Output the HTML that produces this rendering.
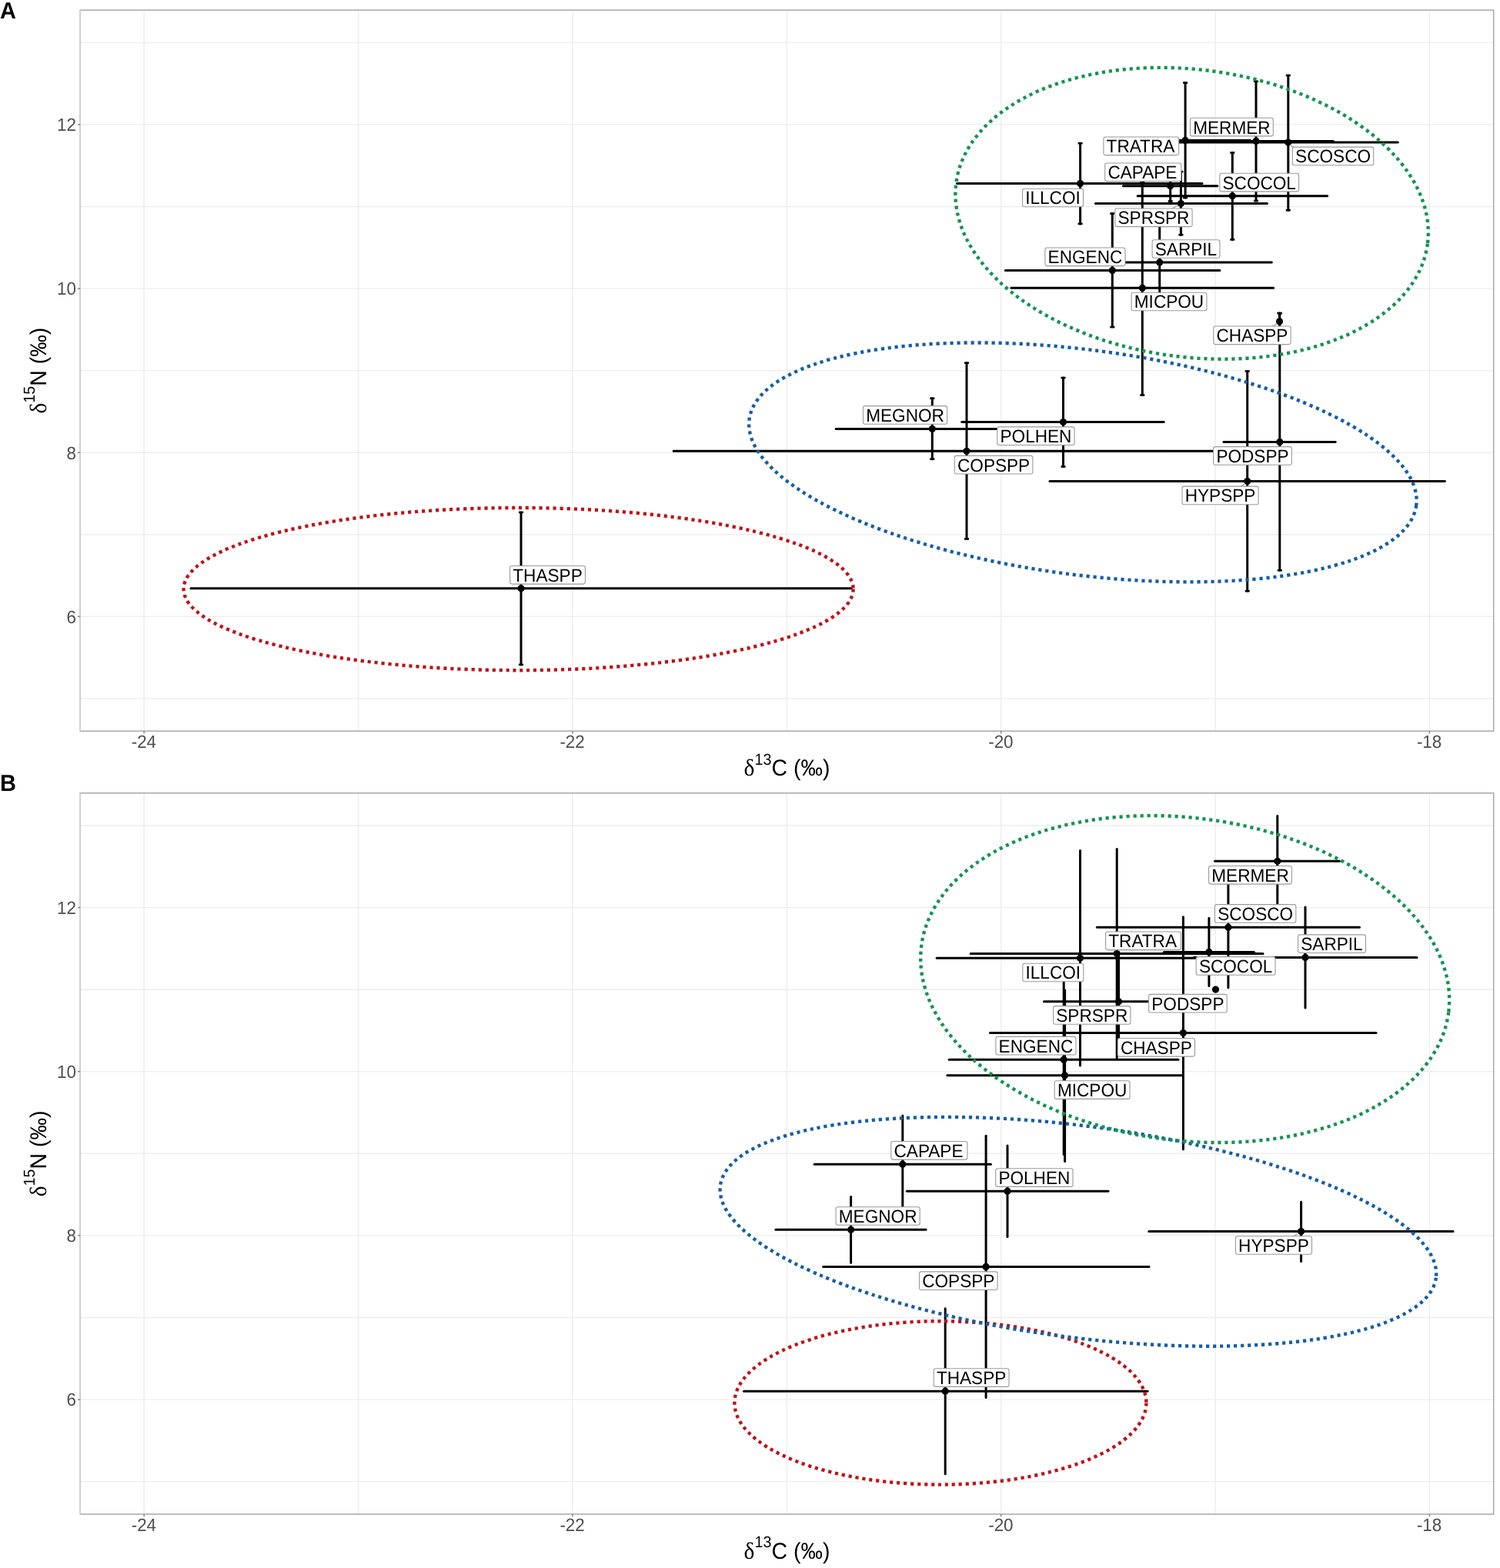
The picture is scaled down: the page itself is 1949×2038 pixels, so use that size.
<!DOCTYPE html>
<html><head><meta charset="utf-8"><title>Stable isotope biplot</title>
<style>html,body{margin:0;padding:0;background:#fff;}svg{display:block;}text{text-rendering:geometricPrecision;}</style>
</head><body>
<svg width="1949" height="2038" viewBox="0 0 1949 2038">
<rect width="1949" height="2038" fill="#ffffff"/>
<g stroke="#ededed" stroke-width="1.4" fill="none">
<line x1="104.3" y1="907.9" x2="1940.7" y2="907.9"/>
<line x1="104.3" y1="801.3" x2="1940.7" y2="801.3"/>
<line x1="104.3" y1="694.7" x2="1940.7" y2="694.7"/>
<line x1="104.3" y1="588.2" x2="1940.7" y2="588.2"/>
<line x1="104.3" y1="481.6" x2="1940.7" y2="481.6"/>
<line x1="104.3" y1="375.1" x2="1940.7" y2="375.1"/>
<line x1="104.3" y1="268.5" x2="1940.7" y2="268.5"/>
<line x1="104.3" y1="161.9" x2="1940.7" y2="161.9"/>
<line x1="104.3" y1="55.4" x2="1940.7" y2="55.4"/>
<line x1="187.2" y1="13.1" x2="187.2" y2="950.2"/>
<line x1="465.6" y1="13.1" x2="465.6" y2="950.2"/>
<line x1="743.9" y1="13.1" x2="743.9" y2="950.2"/>
<line x1="1022.3" y1="13.1" x2="1022.3" y2="950.2"/>
<line x1="1300.7" y1="13.1" x2="1300.7" y2="950.2"/>
<line x1="1579.0" y1="13.1" x2="1579.0" y2="950.2"/>
<line x1="1857.4" y1="13.1" x2="1857.4" y2="950.2"/>
</g>
<g stroke="#000" stroke-width="3" fill="none" stroke-linecap="round">
<line x1="248.0" y1="764.8" x2="1106.3" y2="764.8"/>
<line x1="677.0" y1="665.9" x2="677.0" y2="863.9"/>
<line x1="1243.5" y1="238.6" x2="1562.0" y2="238.6"/>
<line x1="1403.6" y1="186.2" x2="1403.6" y2="290.9"/>
<line x1="1459.4" y1="241.7" x2="1581.9" y2="241.7"/>
<line x1="1520.7" y1="222.0" x2="1520.7" y2="261.5"/>
<line x1="1455.8" y1="182.4" x2="1624.4" y2="182.4"/>
<line x1="1540.1" y1="107.6" x2="1540.1" y2="257.0"/>
<line x1="1531.7" y1="183.4" x2="1732.3" y2="183.4"/>
<line x1="1632.0" y1="105.8" x2="1632.0" y2="261.0"/>
<line x1="1531.3" y1="185.0" x2="1816.3" y2="185.0"/>
<line x1="1673.8" y1="98.0" x2="1673.8" y2="273.2"/>
<line x1="1478.1" y1="254.8" x2="1724.7" y2="254.8"/>
<line x1="1601.3" y1="198.5" x2="1601.3" y2="311.4"/>
<line x1="1423.4" y1="264.5" x2="1646.4" y2="264.5"/>
<line x1="1534.4" y1="223.2" x2="1534.4" y2="305.2"/>
<line x1="1361.0" y1="340.9" x2="1652.3" y2="340.9"/>
<line x1="1506.7" y1="287.0" x2="1506.7" y2="394.6"/>
<line x1="1306.3" y1="351.6" x2="1584.9" y2="351.6"/>
<line x1="1445.3" y1="277.5" x2="1445.3" y2="425.0"/>
<line x1="1313.9" y1="374.3" x2="1654.5" y2="374.3"/>
<line x1="1484.3" y1="236.6" x2="1484.3" y2="513.5"/>
<line x1="1662.5" y1="406.9" x2="1662.5" y2="428.7"/>
<line x1="1590.0" y1="574.4" x2="1735.2" y2="574.4"/>
<line x1="1662.8" y1="407.3" x2="1662.8" y2="741.3"/>
<line x1="1364.0" y1="625.6" x2="1877.4" y2="625.6"/>
<line x1="1620.7" y1="482.5" x2="1620.7" y2="768.2"/>
<line x1="1249.7" y1="548.6" x2="1512.2" y2="548.6"/>
<line x1="1381.5" y1="491.0" x2="1381.5" y2="606.5"/>
<line x1="1086.2" y1="557.5" x2="1336.4" y2="557.5"/>
<line x1="1211.3" y1="517.7" x2="1211.3" y2="596.7"/>
<line x1="875.2" y1="586.3" x2="1636.8" y2="586.3"/>
<line x1="1256.0" y1="471.7" x2="1256.0" y2="700.4"/>
</g>
<g stroke="#000" stroke-width="2.6" stroke-linecap="butt">
<line x1="674.0" y1="665.9" x2="680.0" y2="665.9"/>
<line x1="674.0" y1="863.9" x2="680.0" y2="863.9"/>
<line x1="1400.6" y1="186.2" x2="1406.6" y2="186.2"/>
<line x1="1400.6" y1="290.9" x2="1406.6" y2="290.9"/>
<line x1="1517.7" y1="222.0" x2="1523.7" y2="222.0"/>
<line x1="1517.7" y1="261.5" x2="1523.7" y2="261.5"/>
<line x1="1537.1" y1="107.6" x2="1543.1" y2="107.6"/>
<line x1="1537.1" y1="257.0" x2="1543.1" y2="257.0"/>
<line x1="1629.0" y1="105.8" x2="1635.0" y2="105.8"/>
<line x1="1629.0" y1="261.0" x2="1635.0" y2="261.0"/>
<line x1="1670.8" y1="98.0" x2="1676.8" y2="98.0"/>
<line x1="1670.8" y1="273.2" x2="1676.8" y2="273.2"/>
<line x1="1598.3" y1="198.5" x2="1604.3" y2="198.5"/>
<line x1="1598.3" y1="311.4" x2="1604.3" y2="311.4"/>
<line x1="1531.4" y1="223.2" x2="1537.4" y2="223.2"/>
<line x1="1531.4" y1="305.2" x2="1537.4" y2="305.2"/>
<line x1="1503.7" y1="287.0" x2="1509.7" y2="287.0"/>
<line x1="1503.7" y1="394.6" x2="1509.7" y2="394.6"/>
<line x1="1442.3" y1="277.5" x2="1448.3" y2="277.5"/>
<line x1="1442.3" y1="425.0" x2="1448.3" y2="425.0"/>
<line x1="1481.3" y1="236.6" x2="1487.3" y2="236.6"/>
<line x1="1481.3" y1="513.5" x2="1487.3" y2="513.5"/>
<line x1="1659.5" y1="406.9" x2="1665.5" y2="406.9"/>
<line x1="1659.5" y1="428.7" x2="1665.5" y2="428.7"/>
<line x1="1659.8" y1="407.3" x2="1665.8" y2="407.3"/>
<line x1="1659.8" y1="741.3" x2="1665.8" y2="741.3"/>
<line x1="1617.7" y1="482.5" x2="1623.7" y2="482.5"/>
<line x1="1617.7" y1="768.2" x2="1623.7" y2="768.2"/>
<line x1="1378.5" y1="491.0" x2="1384.5" y2="491.0"/>
<line x1="1378.5" y1="606.5" x2="1384.5" y2="606.5"/>
<line x1="1208.3" y1="517.7" x2="1214.3" y2="517.7"/>
<line x1="1208.3" y1="596.7" x2="1214.3" y2="596.7"/>
<line x1="1253.0" y1="471.7" x2="1259.0" y2="471.7"/>
<line x1="1253.0" y1="700.4" x2="1259.0" y2="700.4"/>
</g>
<g fill="#000">
<circle cx="677.0" cy="764.8" r="4.6"/>
<circle cx="1403.6" cy="238.6" r="4.6"/>
<circle cx="1520.7" cy="241.7" r="4.6"/>
<circle cx="1540.1" cy="182.4" r="4.6"/>
<circle cx="1632.0" cy="183.4" r="4.6"/>
<circle cx="1673.8" cy="185.0" r="4.6"/>
<circle cx="1601.3" cy="254.8" r="4.6"/>
<circle cx="1534.4" cy="264.5" r="4.6"/>
<circle cx="1506.7" cy="340.9" r="4.6"/>
<circle cx="1445.3" cy="351.6" r="4.6"/>
<circle cx="1484.3" cy="374.3" r="4.6"/>
<circle cx="1662.5" cy="417.8" r="4.6"/>
<circle cx="1662.8" cy="574.4" r="4.6"/>
<circle cx="1620.7" cy="625.6" r="4.6"/>
<circle cx="1381.5" cy="548.6" r="4.6"/>
<circle cx="1211.3" cy="557.5" r="4.6"/>
<circle cx="1256.0" cy="586.3" r="4.6"/>
</g>
<ellipse cx="673.6" cy="765.6" rx="435.0" ry="105.6" transform="rotate(0.00 673.6 765.6)" fill="none" stroke="#bd1418" stroke-width="4.4" stroke-dasharray="4.2 4.8"/>
<ellipse cx="1406.9" cy="600.9" rx="436.9" ry="146.3" transform="rotate(7.34 1406.9 600.9)" fill="none" stroke="#165ea3" stroke-width="4.4" stroke-dasharray="4.2 4.8"/>
<ellipse cx="1548.6" cy="277.3" rx="308.8" ry="186.8" transform="rotate(7.33 1548.6 277.3)" fill="none" stroke="#159353" stroke-width="4.4" stroke-dasharray="4.2 4.8"/>
<g stroke="#999" stroke-width="1.2">
<line x1="1676" y1="188" x2="1681" y2="192"/>
<line x1="1659" y1="421" x2="1652" y2="424.5"/>
<line x1="1530.3" y1="267" x2="1523.3" y2="271"/>
<line x1="1617" y1="629" x2="1612" y2="632.5"/>
</g>
<g font-family="Liberation Sans, Arial, Helvetica, sans-serif" font-size="22.6" fill="#000">
<rect x="662.6" y="735.5" width="97.8" height="23.6" rx="2.5" fill="#fff" stroke="#9a9a9a" stroke-width="1.1"/>
<text transform="translate(666.3 755.7) scale(1 1.045)">THASPP</text>
<rect x="1328.5" y="245.2" width="79.0" height="23.6" rx="2.5" fill="#fff" stroke="#9a9a9a" stroke-width="1.1"/>
<text transform="translate(1332.2 265.4) scale(1 1.045)">ILLCOI</text>
<rect x="1435.7" y="212.0" width="99.1" height="23.6" rx="2.5" fill="#fff" stroke="#9a9a9a" stroke-width="1.1"/>
<text transform="translate(1439.4 232.2) scale(1 1.045)">CAPAPE</text>
<rect x="1433.9" y="178.0" width="97.8" height="23.6" rx="2.5" fill="#fff" stroke="#9a9a9a" stroke-width="1.1"/>
<text transform="translate(1437.6 198.2) scale(1 1.045)">TRATRA</text>
<rect x="1546.5" y="153.3" width="107.8" height="23.6" rx="2.5" fill="#fff" stroke="#9a9a9a" stroke-width="1.1"/>
<text transform="translate(1550.2 173.5) scale(1 1.045)">MERMER</text>
<rect x="1679.4" y="191.1" width="105.3" height="23.6" rx="2.5" fill="#fff" stroke="#9a9a9a" stroke-width="1.1"/>
<text transform="translate(1683.1 211.3) scale(1 1.045)">SCOSCO</text>
<rect x="1584.8" y="225.3" width="102.8" height="23.6" rx="2.5" fill="#fff" stroke="#9a9a9a" stroke-width="1.1"/>
<text transform="translate(1588.5 245.5) scale(1 1.045)">SCOCOL</text>
<rect x="1448.8" y="271.0" width="100.3" height="23.6" rx="2.5" fill="#fff" stroke="#9a9a9a" stroke-width="1.1"/>
<text transform="translate(1452.5 291.2) scale(1 1.045)">SPRSPR</text>
<rect x="1497.1" y="311.7" width="87.8" height="23.6" rx="2.5" fill="#fff" stroke="#9a9a9a" stroke-width="1.1"/>
<text transform="translate(1500.8 331.9) scale(1 1.045)">SARPIL</text>
<rect x="1357.9" y="322.0" width="104.1" height="23.6" rx="2.5" fill="#fff" stroke="#9a9a9a" stroke-width="1.1"/>
<text transform="translate(1361.6 342.2) scale(1 1.045)">ENGENC</text>
<rect x="1470.1" y="380.2" width="97.8" height="23.6" rx="2.5" fill="#fff" stroke="#9a9a9a" stroke-width="1.1"/>
<text transform="translate(1473.8 400.4) scale(1 1.045)">MICPOU</text>
<rect x="1576.8" y="424.0" width="100.3" height="23.6" rx="2.5" fill="#fff" stroke="#9a9a9a" stroke-width="1.1"/>
<text transform="translate(1580.5 444.2) scale(1 1.045)">CHASPP</text>
<rect x="1576.7" y="580.6" width="101.6" height="23.6" rx="2.5" fill="#fff" stroke="#9a9a9a" stroke-width="1.1"/>
<text transform="translate(1580.4 600.8) scale(1 1.045)">PODSPP</text>
<rect x="1536.0" y="632.1" width="99.1" height="23.6" rx="2.5" fill="#fff" stroke="#9a9a9a" stroke-width="1.1"/>
<text transform="translate(1539.7 652.3) scale(1 1.045)">HYPSPP</text>
<rect x="1295.8" y="554.9" width="100.3" height="23.6" rx="2.5" fill="#fff" stroke="#9a9a9a" stroke-width="1.1"/>
<text transform="translate(1299.5 575.1) scale(1 1.045)">POLHEN</text>
<rect x="1121.5" y="527.6" width="109.1" height="23.6" rx="2.5" fill="#fff" stroke="#9a9a9a" stroke-width="1.1"/>
<text transform="translate(1125.2 547.8) scale(1 1.045)">MEGNOR</text>
<rect x="1240.3" y="592.4" width="101.6" height="23.6" rx="2.5" fill="#fff" stroke="#9a9a9a" stroke-width="1.1"/>
<text transform="translate(1244.0 612.6) scale(1 1.045)">COPSPP</text>
</g>
<rect x="104.3" y="13.1" width="1836.4" height="937.1" fill="none" stroke="#a8a8a8" stroke-width="1.5"/>
<line x1="104.3" y1="13.1" x2="104.3" y2="950.2" stroke="#cfcfcf" stroke-width="1.5"/>
<g stroke="#858585" stroke-width="1.5">
<line x1="101.0" y1="801.3" x2="104.3" y2="801.3"/>
<line x1="101.0" y1="588.2" x2="104.3" y2="588.2"/>
<line x1="101.0" y1="375.1" x2="104.3" y2="375.1"/>
<line x1="101.0" y1="161.9" x2="104.3" y2="161.9"/>
<line x1="187.2" y1="950.2" x2="187.2" y2="953.5"/>
<line x1="743.9" y1="950.2" x2="743.9" y2="953.5"/>
<line x1="1300.7" y1="950.2" x2="1300.7" y2="953.5"/>
<line x1="1857.4" y1="950.2" x2="1857.4" y2="953.5"/>
</g>
<g font-family="Liberation Sans, Arial, Helvetica, sans-serif" font-size="22.4" fill="#4d4d4d">
<text transform="translate(99 809.6) scale(1 1.045)" text-anchor="end">6</text>
<text transform="translate(99 596.5) scale(1 1.045)" text-anchor="end">8</text>
<text transform="translate(99 383.4) scale(1 1.045)" text-anchor="end">10</text>
<text transform="translate(99 170.2) scale(1 1.045)" text-anchor="end">12</text>
<text transform="translate(186.9 971.8) scale(1 1.045)" text-anchor="middle">-24</text>
<text transform="translate(743.6 971.8) scale(1 1.045)" text-anchor="middle">-22</text>
<text transform="translate(1300.4 971.8) scale(1 1.045)" text-anchor="middle">-20</text>
<text transform="translate(1857.1 971.8) scale(1 1.045)" text-anchor="middle">-18</text>
</g>
<text transform="translate(1022.5 1008.1) scale(1 1.045)" text-anchor="middle" font-family="Liberation Sans, Arial, Helvetica, sans-serif" font-size="28.5" fill="#000"><tspan font-family="Liberation Serif, Times New Roman, serif" font-size="29.5">δ</tspan><tspan font-family="Liberation Sans, Arial, Helvetica, sans-serif" font-size="19.7" dy="-13.8">13</tspan><tspan font-family="Liberation Sans, Arial, Helvetica, sans-serif" dy="13.8">C (‰)</tspan></text>
<text transform="translate(59.6 481.7) rotate(-90) scale(1 1.045)" text-anchor="middle" font-family="Liberation Sans, Arial, Helvetica, sans-serif" font-size="28.5" fill="#000"><tspan font-family="Liberation Serif, Times New Roman, serif" font-size="29.5">δ</tspan><tspan font-family="Liberation Sans, Arial, Helvetica, sans-serif" font-size="19.7" dy="-13.8">15</tspan><tspan font-family="Liberation Sans, Arial, Helvetica, sans-serif" dy="13.8">N (‰)</tspan></text>
<text transform="translate(0 24.0) scale(1 1.045)" font-family="Liberation Sans, Arial, Helvetica, sans-serif" font-size="29" font-weight="bold" fill="#000">A</text>
<g stroke="#ededed" stroke-width="1.4" fill="none">
<line x1="104.3" y1="1925.6" x2="1940.7" y2="1925.6"/>
<line x1="104.3" y1="1819.1" x2="1940.7" y2="1819.1"/>
<line x1="104.3" y1="1712.5" x2="1940.7" y2="1712.5"/>
<line x1="104.3" y1="1605.9" x2="1940.7" y2="1605.9"/>
<line x1="104.3" y1="1499.3" x2="1940.7" y2="1499.3"/>
<line x1="104.3" y1="1392.7" x2="1940.7" y2="1392.7"/>
<line x1="104.3" y1="1286.2" x2="1940.7" y2="1286.2"/>
<line x1="104.3" y1="1179.6" x2="1940.7" y2="1179.6"/>
<line x1="104.3" y1="1073.0" x2="1940.7" y2="1073.0"/>
<line x1="187.2" y1="1030.8" x2="187.2" y2="1968.0"/>
<line x1="465.6" y1="1030.8" x2="465.6" y2="1968.0"/>
<line x1="743.9" y1="1030.8" x2="743.9" y2="1968.0"/>
<line x1="1022.3" y1="1030.8" x2="1022.3" y2="1968.0"/>
<line x1="1300.7" y1="1030.8" x2="1300.7" y2="1968.0"/>
<line x1="1579.0" y1="1030.8" x2="1579.0" y2="1968.0"/>
<line x1="1857.4" y1="1030.8" x2="1857.4" y2="1968.0"/>
</g>
<g stroke="#000" stroke-width="3" fill="none" stroke-linecap="round">
<line x1="1217.2" y1="1245.3" x2="1590.0" y2="1245.3"/>
<line x1="1403.5" y1="1105.5" x2="1403.5" y2="1384.9"/>
<line x1="1261.2" y1="1239.5" x2="1641.0" y2="1239.5"/>
<line x1="1451.2" y1="1103.5" x2="1451.2" y2="1374.7"/>
<line x1="1578.5" y1="1119.3" x2="1740.4" y2="1119.3"/>
<line x1="1659.8" y1="1060.5" x2="1659.8" y2="1178.1"/>
<line x1="1425.4" y1="1205.3" x2="1766.4" y2="1205.3"/>
<line x1="1595.9" y1="1126.9" x2="1595.9" y2="1283.7"/>
<line x1="1512.3" y1="1237.4" x2="1629.5" y2="1237.4"/>
<line x1="1570.9" y1="1193.3" x2="1570.9" y2="1281.5"/>
<line x1="1551.0" y1="1244.4" x2="1841.0" y2="1244.4"/>
<line x1="1696.0" y1="1179.1" x2="1696.0" y2="1310.1"/>
<line x1="1356.5" y1="1301.7" x2="1550.5" y2="1301.7"/>
<line x1="1453.5" y1="1241.0" x2="1453.5" y2="1362.4"/>
<line x1="1286.5" y1="1342.6" x2="1788.0" y2="1342.6"/>
<line x1="1537.4" y1="1191.8" x2="1537.4" y2="1493.7"/>
<line x1="1233.2" y1="1377.2" x2="1531.0" y2="1377.2"/>
<line x1="1382.2" y1="1253.8" x2="1382.2" y2="1500.6"/>
<line x1="1230.8" y1="1397.8" x2="1535.6" y2="1397.8"/>
<line x1="1383.6" y1="1287.0" x2="1383.6" y2="1509.6"/>
<line x1="1058.2" y1="1513.2" x2="1287.4" y2="1513.2"/>
<line x1="1172.8" y1="1449.9" x2="1172.8" y2="1576.5"/>
<line x1="1178.3" y1="1548.3" x2="1440.0" y2="1548.3"/>
<line x1="1309.0" y1="1489.0" x2="1309.0" y2="1607.6"/>
<line x1="1007.9" y1="1598.3" x2="1203.0" y2="1598.3"/>
<line x1="1105.6" y1="1555.6" x2="1105.6" y2="1641.2"/>
<line x1="1069.6" y1="1646.4" x2="1493.0" y2="1646.4"/>
<line x1="1281.1" y1="1476.3" x2="1281.1" y2="1816.6"/>
<line x1="1492.8" y1="1600.6" x2="1888.0" y2="1600.6"/>
<line x1="1690.6" y1="1562.2" x2="1690.6" y2="1639.6"/>
<line x1="966.5" y1="1808.2" x2="1491.1" y2="1808.2"/>
<line x1="1228.2" y1="1700.8" x2="1228.2" y2="1915.7"/>
</g>
<g fill="#000">
<circle cx="1403.5" cy="1245.3" r="4.6"/>
<circle cx="1451.2" cy="1239.5" r="4.6"/>
<circle cx="1659.8" cy="1119.3" r="4.6"/>
<circle cx="1595.9" cy="1205.3" r="4.6"/>
<circle cx="1570.9" cy="1237.4" r="4.6"/>
<circle cx="1696.0" cy="1244.4" r="4.6"/>
<circle cx="1579.5" cy="1286.1" r="4.6"/>
<circle cx="1453.5" cy="1301.7" r="4.6"/>
<circle cx="1537.4" cy="1342.6" r="4.6"/>
<circle cx="1382.2" cy="1377.2" r="4.6"/>
<circle cx="1383.6" cy="1397.8" r="4.6"/>
<circle cx="1172.8" cy="1513.2" r="4.6"/>
<circle cx="1309.0" cy="1548.3" r="4.6"/>
<circle cx="1105.6" cy="1598.3" r="4.6"/>
<circle cx="1281.1" cy="1646.4" r="4.6"/>
<circle cx="1690.6" cy="1600.6" r="4.6"/>
<circle cx="1228.2" cy="1808.2" r="4.6"/>
</g>
<ellipse cx="1221.9" cy="1823.4" rx="267.5" ry="106.2" transform="rotate(0.00 1221.9 1823.4)" fill="none" stroke="#bd1418" stroke-width="4.4" stroke-dasharray="4.2 4.8"/>
<ellipse cx="1400.9" cy="1600.8" rx="468.8" ry="137.5" transform="rotate(7.34 1400.9 1600.8)" fill="none" stroke="#165ea3" stroke-width="4.4" stroke-dasharray="4.2 4.8"/>
<ellipse cx="1539.7" cy="1272.6" rx="345.2" ry="209.7" transform="rotate(7.15 1539.7 1272.6)" fill="none" stroke="#159353" stroke-width="4.4" stroke-dasharray="4.2 4.8"/>
<g stroke="#999" stroke-width="1.2">
<line x1="1686" y1="1603.5" x2="1681" y2="1606.7"/>
</g>
<g font-family="Liberation Sans, Arial, Helvetica, sans-serif" font-size="22.6" fill="#000">
<rect x="1328.8" y="1252.2" width="79.0" height="23.6" rx="2.5" fill="#fff" stroke="#9a9a9a" stroke-width="1.1"/>
<text transform="translate(1332.5 1272.4) scale(1 1.045)">ILLCOI</text>
<rect x="1436.6" y="1211.0" width="97.8" height="23.6" rx="2.5" fill="#fff" stroke="#9a9a9a" stroke-width="1.1"/>
<text transform="translate(1440.3 1231.2) scale(1 1.045)">TRATRA</text>
<rect x="1570.6" y="1125.5" width="107.8" height="23.6" rx="2.5" fill="#fff" stroke="#9a9a9a" stroke-width="1.1"/>
<text transform="translate(1574.3 1145.7) scale(1 1.045)">MERMER</text>
<rect x="1578.5" y="1175.6" width="105.3" height="23.6" rx="2.5" fill="#fff" stroke="#9a9a9a" stroke-width="1.1"/>
<text transform="translate(1582.2 1195.8) scale(1 1.045)">SCOSCO</text>
<rect x="1554.2" y="1243.6" width="102.8" height="23.6" rx="2.5" fill="#fff" stroke="#9a9a9a" stroke-width="1.1"/>
<text transform="translate(1557.9 1263.8) scale(1 1.045)">SCOCOL</text>
<rect x="1686.6" y="1214.9" width="87.8" height="23.6" rx="2.5" fill="#fff" stroke="#9a9a9a" stroke-width="1.1"/>
<text transform="translate(1690.3 1235.1) scale(1 1.045)">SARPIL</text>
<rect x="1492.6" y="1292.4" width="101.6" height="23.6" rx="2.5" fill="#fff" stroke="#9a9a9a" stroke-width="1.1"/>
<text transform="translate(1496.3 1312.6) scale(1 1.045)">PODSPP</text>
<rect x="1368.6" y="1307.6" width="100.3" height="23.6" rx="2.5" fill="#fff" stroke="#9a9a9a" stroke-width="1.1"/>
<text transform="translate(1372.3 1327.8) scale(1 1.045)">SPRSPR</text>
<rect x="1452.2" y="1349.5" width="100.3" height="23.6" rx="2.5" fill="#fff" stroke="#9a9a9a" stroke-width="1.1"/>
<text transform="translate(1455.9 1369.7) scale(1 1.045)">CHASPP</text>
<rect x="1293.9" y="1347.4" width="104.1" height="23.6" rx="2.5" fill="#fff" stroke="#9a9a9a" stroke-width="1.1"/>
<text transform="translate(1297.6 1367.6) scale(1 1.045)">ENGENC</text>
<rect x="1370.2" y="1404.8" width="97.8" height="23.6" rx="2.5" fill="#fff" stroke="#9a9a9a" stroke-width="1.1"/>
<text transform="translate(1373.9 1425.0) scale(1 1.045)">MICPOU</text>
<rect x="1157.8" y="1483.5" width="99.1" height="23.6" rx="2.5" fill="#fff" stroke="#9a9a9a" stroke-width="1.1"/>
<text transform="translate(1161.5 1503.7) scale(1 1.045)">CAPAPE</text>
<rect x="1293.7" y="1518.8" width="100.3" height="23.6" rx="2.5" fill="#fff" stroke="#9a9a9a" stroke-width="1.1"/>
<text transform="translate(1297.4 1539.0) scale(1 1.045)">POLHEN</text>
<rect x="1086.1" y="1568.7" width="109.1" height="23.6" rx="2.5" fill="#fff" stroke="#9a9a9a" stroke-width="1.1"/>
<text transform="translate(1089.8 1588.9) scale(1 1.045)">MEGNOR</text>
<rect x="1194.5" y="1652.9" width="101.6" height="23.6" rx="2.5" fill="#fff" stroke="#9a9a9a" stroke-width="1.1"/>
<text transform="translate(1198.2 1673.1) scale(1 1.045)">COPSPP</text>
<rect x="1605.4" y="1606.7" width="99.1" height="23.6" rx="2.5" fill="#fff" stroke="#9a9a9a" stroke-width="1.1"/>
<text transform="translate(1609.1 1626.9) scale(1 1.045)">HYPSPP</text>
<rect x="1213.2" y="1778.8" width="97.8" height="23.6" rx="2.5" fill="#fff" stroke="#9a9a9a" stroke-width="1.1"/>
<text transform="translate(1216.9 1799.0) scale(1 1.045)">THASPP</text>
</g>
<rect x="104.3" y="1030.8" width="1836.4" height="937.2" fill="none" stroke="#a8a8a8" stroke-width="1.5"/>
<line x1="104.3" y1="1030.8" x2="104.3" y2="1968.0" stroke="#cfcfcf" stroke-width="1.5"/>
<g stroke="#858585" stroke-width="1.5">
<line x1="101.0" y1="1819.1" x2="104.3" y2="1819.1"/>
<line x1="101.0" y1="1605.9" x2="104.3" y2="1605.9"/>
<line x1="101.0" y1="1392.7" x2="104.3" y2="1392.7"/>
<line x1="101.0" y1="1179.6" x2="104.3" y2="1179.6"/>
<line x1="187.2" y1="1968.0" x2="187.2" y2="1971.3"/>
<line x1="743.9" y1="1968.0" x2="743.9" y2="1971.3"/>
<line x1="1300.7" y1="1968.0" x2="1300.7" y2="1971.3"/>
<line x1="1857.4" y1="1968.0" x2="1857.4" y2="1971.3"/>
</g>
<g font-family="Liberation Sans, Arial, Helvetica, sans-serif" font-size="22.4" fill="#4d4d4d">
<text transform="translate(99 1827.4) scale(1 1.045)" text-anchor="end">6</text>
<text transform="translate(99 1614.2) scale(1 1.045)" text-anchor="end">8</text>
<text transform="translate(99 1401.0) scale(1 1.045)" text-anchor="end">10</text>
<text transform="translate(99 1187.9) scale(1 1.045)" text-anchor="end">12</text>
<text transform="translate(186.9 1989.6) scale(1 1.045)" text-anchor="middle">-24</text>
<text transform="translate(743.6 1989.6) scale(1 1.045)" text-anchor="middle">-22</text>
<text transform="translate(1300.4 1989.6) scale(1 1.045)" text-anchor="middle">-20</text>
<text transform="translate(1857.1 1989.6) scale(1 1.045)" text-anchor="middle">-18</text>
</g>
<text transform="translate(1022.5 2025.9) scale(1 1.045)" text-anchor="middle" font-family="Liberation Sans, Arial, Helvetica, sans-serif" font-size="28.5" fill="#000"><tspan font-family="Liberation Serif, Times New Roman, serif" font-size="29.5">δ</tspan><tspan font-family="Liberation Sans, Arial, Helvetica, sans-serif" font-size="19.7" dy="-13.8">13</tspan><tspan font-family="Liberation Sans, Arial, Helvetica, sans-serif" dy="13.8">C (‰)</tspan></text>
<text transform="translate(59.6 1499.4) rotate(-90) scale(1 1.045)" text-anchor="middle" font-family="Liberation Sans, Arial, Helvetica, sans-serif" font-size="28.5" fill="#000"><tspan font-family="Liberation Serif, Times New Roman, serif" font-size="29.5">δ</tspan><tspan font-family="Liberation Sans, Arial, Helvetica, sans-serif" font-size="19.7" dy="-13.8">15</tspan><tspan font-family="Liberation Sans, Arial, Helvetica, sans-serif" dy="13.8">N (‰)</tspan></text>
<text transform="translate(0 1027.7) scale(1 1.045)" font-family="Liberation Sans, Arial, Helvetica, sans-serif" font-size="29" font-weight="bold" fill="#000">B</text>
</svg>
</body></html>
